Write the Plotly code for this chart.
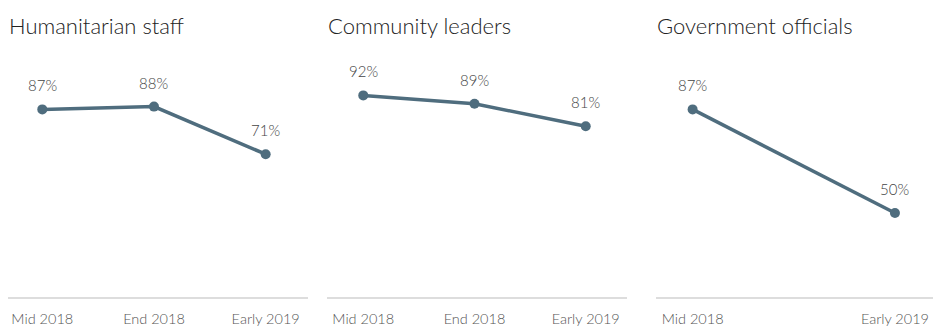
import plotly.graph_objects as go

titles = ["Humanitarian staff", "Community leaders", "Government officials"]
periods = [["Mid 2018", "End 2018", "Early 2019"],
           ["Mid 2018", "End 2018", "Early 2019"],
           ["Mid 2018", "Early 2019"]]
humanitarian_staff = [87, 88, 71]
community_leaders = [92, 89, 81]
government_officials = [87, 50]
series = [humanitarian_staff, community_leaders, government_officials]

W, H = 933, 327
ML, MR, MT, MB = 8, 0, 73, 30
PW = W - ML - MR
PH = H - MT - MB

# pixel extents of each panel
panels_px = [(8, 308), (327, 627), (656, 933)]
xranges = [[-0.307, 2.379], [-0.326, 2.371], [-0.181, 1.188]]

LINE = "#4f6d7e"
FONT = "Lato, 'Noto Sans', sans-serif"

fig = go.Figure()
annotations = []
for i, (vals, labels) in enumerate(zip(series, periods)):
    xs = list(range(len(vals)))
    n = "" if i == 0 else str(i + 1)
    fig.add_trace(go.Scatter(
        x=xs, y=vals, mode="lines+markers",
        line=dict(color=LINE, width=3.5),
        marker=dict(color=LINE, size=10),
        xaxis="x" + n, yaxis="y" + n, showlegend=False, hoverinfo="skip"))
    x0, x1 = panels_px[i]
    dom = [(x0 - ML) / PW, (x1 - ML) / PW]
    fig.update_layout(**{
        "xaxis" + n: dict(domain=dom, range=xranges[i], tickvals=xs, ticktext=labels,
                          showgrid=False, zeroline=False, showline=True,
                          linecolor="#dddddd", linewidth=2,
                          ticks="outside", ticklen=8, tickcolor="rgba(0,0,0,0)",
                          tickfont=dict(size=14.5, color="#555555", family=FONT, weight=300),
                          anchor="y" + n, fixedrange=True),
        "yaxis" + n: dict(domain=[0, 1], range=[20, 100], visible=False,
                          anchor="x" + n, fixedrange=True),
    })
    for x, v in zip(xs, vals):
        annotations.append(dict(x=x, y=v, xref="x" + n, yref="y" + n,
                                text=f"{v}%", showarrow=False, yanchor="bottom",
                                yshift=13, font=dict(size=15, color="#444444", family=FONT, weight=300)))
    annotations.append(dict(x=dom[0], y=(H - MB - 26) / PH, xref="paper", yref="paper",
                            text=titles[i], showarrow=False, xanchor="left", yanchor="middle",
                            xshift=-1,
                            font=dict(size=22, color="#222222", family=FONT, weight=300)))

fig.update_layout(width=W, height=H, margin=dict(l=ML, r=MR, t=MT, b=MB),
                  paper_bgcolor="white", plot_bgcolor="white",
                  annotations=annotations)
fig.write_html("out.html")
